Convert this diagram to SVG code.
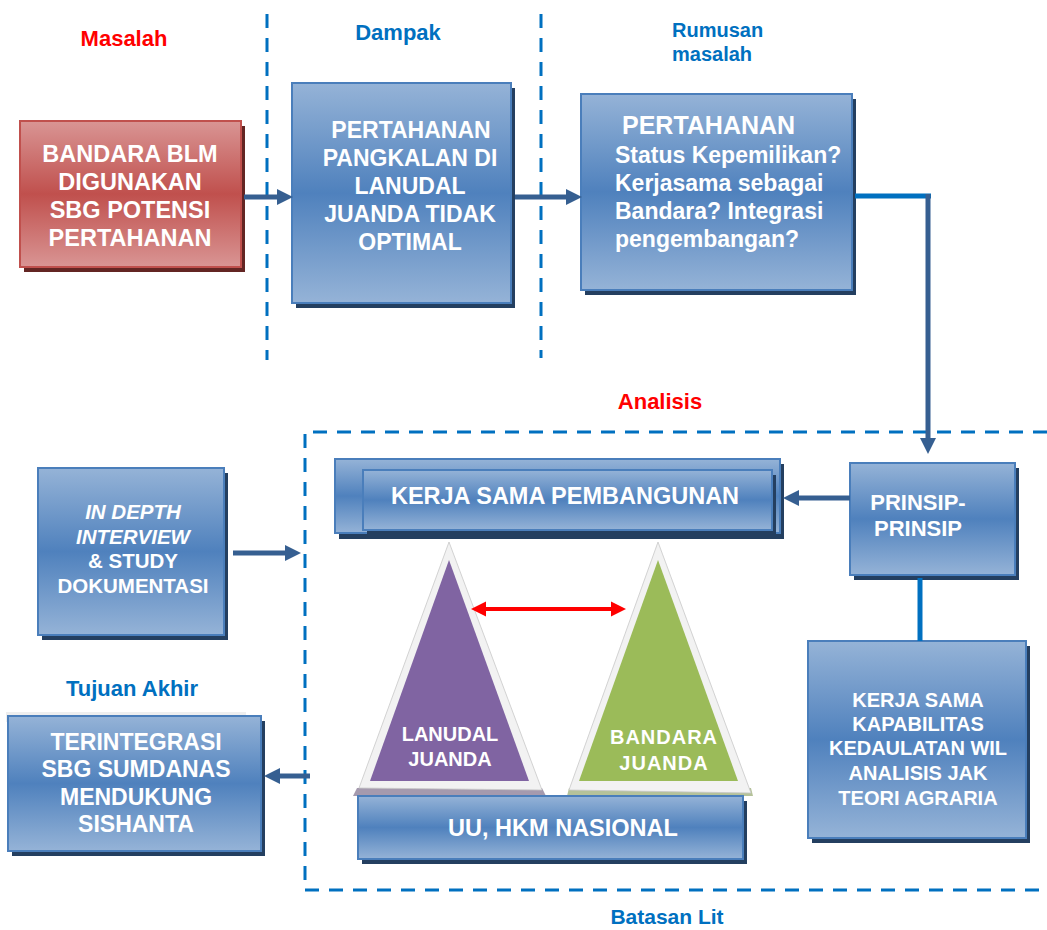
<svg xmlns="http://www.w3.org/2000/svg" width="1047" height="930" viewBox="0 0 1047 930">
<defs>
<linearGradient id="gb" x1="0" y1="0" x2="0" y2="1">
<stop offset="0" stop-color="#95B3D7"/>
<stop offset="0.5" stop-color="#4F81BD"/>
<stop offset="1" stop-color="#95B3D7"/>
</linearGradient>
<linearGradient id="gr" x1="0" y1="0" x2="0" y2="1">
<stop offset="0" stop-color="#D99594"/>
<stop offset="0.5" stop-color="#C0504D"/>
<stop offset="1" stop-color="#D99594"/>
</linearGradient>
<marker id="ah" viewBox="0 0 10 10" refX="0" refY="5" markerWidth="16" markerHeight="18" orient="auto" markerUnits="userSpaceOnUse">
<path d="M0,0 L10,5 L0,10 z" fill="#365F91"/>
</marker>
<marker id="ahr" viewBox="0 0 10 10" refX="0" refY="5" markerWidth="15" markerHeight="16" orient="auto-start-reverse" markerUnits="userSpaceOnUse">
<path d="M0,0 L10,5 L0,10 z" fill="#FF0000"/>
</marker>
</defs>
<style>
.box{fill:url(#gb);stroke:#4A7EBB;stroke-width:2}
.sh{fill:#243F60}
.rbox{fill:url(#gr);stroke:#C0504D;stroke-width:2}
.rsh{fill:#632523}
.t{font-family:"Liberation Sans",Arial,sans-serif;font-weight:bold;fill:#FFFFFF;text-anchor:middle}
.tl{font-family:"Liberation Sans",Arial,sans-serif;font-weight:bold;fill:#FFFFFF;text-anchor:start}
.h{font-family:"Liberation Sans",Arial,sans-serif;font-weight:bold;fill:#0070C0}
.hr{font-family:"Liberation Sans",Arial,sans-serif;font-weight:bold;fill:#FF0000}
.dash{fill:none;stroke:#0070C0;stroke-width:3;stroke-dasharray:14 10}
.con{fill:none;stroke:#365F91;stroke-width:5}
.conb{fill:none;stroke:#0070C0;stroke-width:5}
</style>

<g id="labels">
<text class="hr" x="124" y="46" font-size="22" text-anchor="middle">Masalah</text>
<text class="h" x="398" y="40" font-size="22" text-anchor="middle">Dampak</text>
<text class="h" x="672" y="37" font-size="20">Rumusan</text>
<text class="h" x="672" y="61" font-size="20">masalah</text>
<text class="hr" x="660" y="409" font-size="22" text-anchor="middle">Analisis</text>
<text class="h" x="132" y="696" font-size="22" text-anchor="middle">Tujuan Akhir</text>
<text class="h" x="667" y="924" font-size="21" text-anchor="middle">Batasan Lit</text>
</g>

<g id="boundaries">
<line class="dash" x1="267" y1="14" x2="267" y2="360"/>
<line class="dash" x1="541" y1="14" x2="541" y2="358"/>
<path class="dash" d="M1047,432 L305,432 L305,890 L1047,890"/>
</g>

<g id="masalah">
<rect class="rsh" x="24" y="126" width="221" height="146"/>
<rect class="rbox" x="20" y="121" width="221" height="146"/>
<text class="t" font-size="23.5"><tspan x="130" y="162">BANDARA BLM</tspan><tspan x="130" y="190">DIGUNAKAN</tspan><tspan x="130" y="218">SBG POTENSI</tspan><tspan x="130" y="246">PERTAHANAN</tspan></text>
</g>

<g id="dampak">
<rect class="sh" x="296" y="88" width="219" height="220"/>
<rect class="box" x="292" y="83" width="219" height="220"/>
<text class="t" font-size="23"><tspan x="411" y="138">PERTAHANAN</tspan><tspan x="410" y="166">PANGKALAN DI</tspan><tspan x="410" y="194">LANUDAL</tspan><tspan x="410" y="222">JUANDA TIDAK</tspan><tspan x="410" y="250">OPTIMAL</tspan></text>
</g>

<g id="rumusan">
<rect class="sh" x="585" y="99" width="271" height="196"/>
<rect class="box" x="581" y="94" width="271" height="196"/>
<text class="tl" font-size="25" x="622" y="134">PERTAHANAN</text>
<text class="tl" font-size="23"><tspan x="615" y="163">Status Kepemilikan?</tspan><tspan x="615" y="191">Kerjasama sebagai</tspan><tspan x="615" y="219">Bandara? Integrasi</tspan><tspan x="615" y="247">pengembangan?</tspan></text>
</g>

<g id="kerjasama-pembangunan">
<rect class="sh" x="339" y="464" width="445" height="75"/>
<rect class="box" x="335" y="459" width="445" height="74"/>
<rect class="sh" x="367" y="475" width="409" height="60"/>
<rect class="box" x="363" y="470" width="409" height="60"/>
<text class="t" font-size="23.5" x="565" y="504">KERJA SAMA PEMBANGUNAN</text>
</g>

<g id="prinsip">
<rect class="sh" x="854" y="468" width="165" height="112"/>
<rect class="box" x="850" y="463" width="165" height="112"/>
<text class="t" font-size="22"><tspan x="918" y="510">PRINSIP-</tspan><tspan x="918" y="536">PRINSIP</tspan></text>
</g>

<g id="kapabilitas">
<rect class="sh" x="812" y="646" width="218" height="197"/>
<rect class="box" x="808" y="641" width="218" height="197"/>
<text class="t" font-size="20"><tspan x="918" y="707">KERJA SAMA</tspan><tspan x="918" y="731">KAPABILITAS</tspan><tspan x="918" y="755">KEDAULATAN WIL</tspan><tspan x="918" y="780">ANALISIS JAK</tspan><tspan x="918" y="805">TEORI AGRARIA</tspan></text>
</g>

<g id="indepth">
<rect class="sh" x="42" y="473" width="186" height="167"/>
<rect class="box" x="38" y="468" width="186" height="167"/>
<text class="t" font-size="20.5"><tspan x="133" y="519" font-style="italic">IN DEPTH</tspan><tspan x="133" y="544" font-style="italic">INTERVIEW</tspan><tspan x="133" y="568">&amp; STUDY</tspan><tspan x="133" y="593">DOKUMENTASI</tspan></text>
</g>

<g id="tujuan">
<rect x="6" y="712" width="240" height="10" fill="#EEEEEE"/>
<rect class="sh" x="12" y="721" width="253" height="135"/>
<rect class="box" x="8" y="716" width="253" height="135"/>
<text class="t" font-size="23"><tspan x="136" y="750">TERINTEGRASI</tspan><tspan x="136" y="777">SBG SUMDANAS</tspan><tspan x="136" y="805">MENDUKUNG</tspan><tspan x="136" y="832">SISHANTA</tspan></text>
</g>

<g id="lanudal">
<polygon points="357,788 542,788 546,796 353,796" fill="#A59AAE"/>
<polygon points="449,542 359,788 542,790" fill="#F2F2F2" stroke="#C8C8C8" stroke-width="0.8"/>
<polygon points="449,560 370,781 529,781" fill="#8064A2"/>
<text class="t" font-size="20"><tspan x="450" y="741">LANUDAL</tspan><tspan x="450" y="766">JUANDA</tspan></text>
</g>

<g id="bandara">
<polygon points="569,788 751,788 753,796 567,796" fill="#B5C29A"/>
<polygon points="658,542 569,790 751,793" fill="#F2F2F2" stroke="#C8C8C8" stroke-width="0.8"/>
<polygon points="658,560 579,781 738,781" fill="#9BBB59"/>
<text class="t" font-size="20" letter-spacing="1"><tspan x="664" y="744">BANDARA</tspan><tspan x="664" y="770">JUANDA</tspan></text>
</g>

<g id="uu">
<rect class="sh" x="362" y="801" width="385" height="63"/>
<rect class="box" x="358" y="796" width="385" height="63"/>
<text class="t" font-size="23.5" x="563" y="836">UU, HKM NASIONAL</text>
</g>

<g id="connectors">
<line class="con" x1="244" y1="197" x2="277" y2="197" marker-end="url(#ah)"/>
<line class="con" x1="515" y1="197" x2="566" y2="197" marker-end="url(#ah)"/>
<line class="conb" x1="855" y1="196" x2="931" y2="196"/>
<line class="con" x1="928" y1="194" x2="928" y2="438" marker-end="url(#ah)"/>
<line class="con" x1="850" y1="498" x2="799" y2="498" marker-end="url(#ah)"/>
<line class="conb" x1="920" y1="578" x2="920" y2="641"/>
<line class="con" x1="233" y1="553" x2="285" y2="553" marker-end="url(#ah)"/>
<line class="con" x1="310" y1="776" x2="280" y2="776" marker-end="url(#ah)"/>
<line x1="486" y1="609" x2="611" y2="609" stroke="#FF0000" stroke-width="4" marker-start="url(#ahr)" marker-end="url(#ahr)"/>
</g>
</svg>
